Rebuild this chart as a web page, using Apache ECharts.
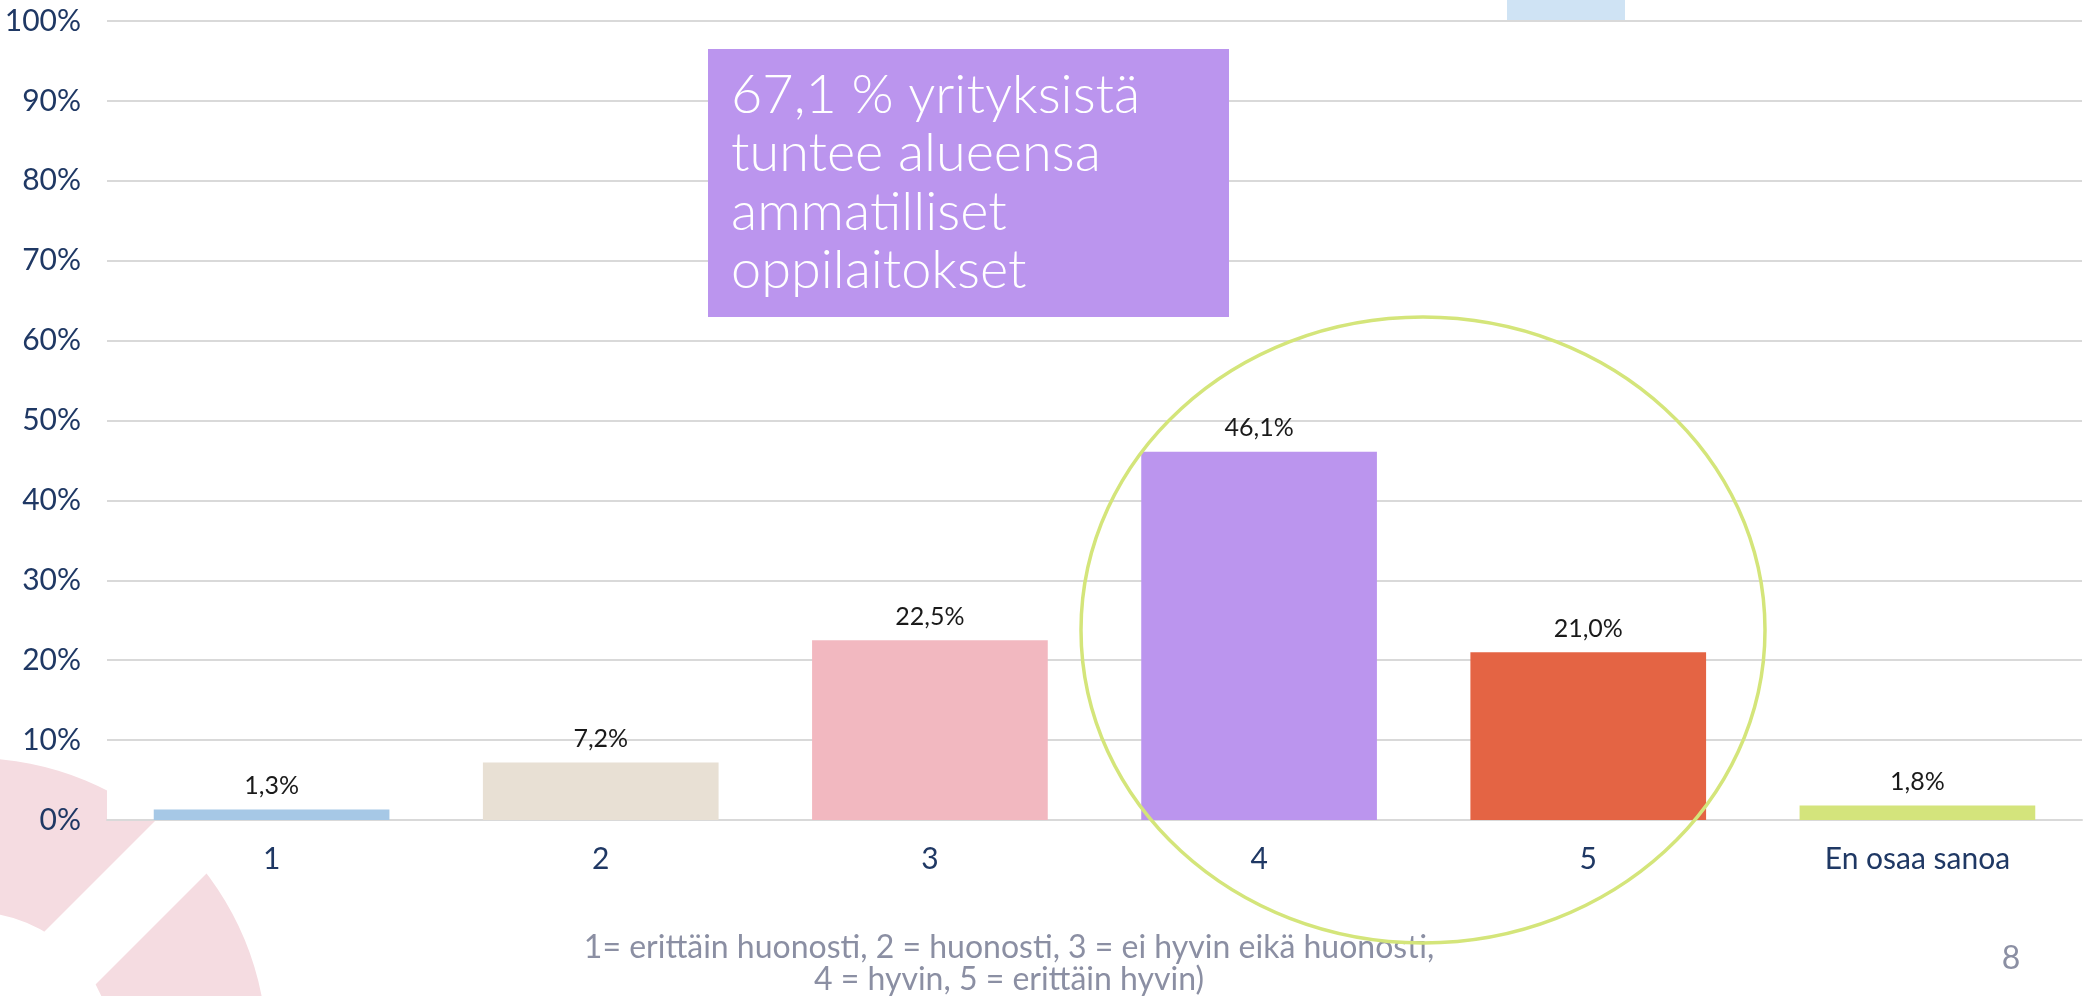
<!DOCTYPE html>
<html>
<head>
<meta charset="utf-8">
<script src="https://cdn.jsdelivr.net/npm/echarts@6/dist/echarts.min.js"></script>
<style>
html,body{margin:0;padding:0;background:#fff;}
#c{width:2088px;height:996px;}
</style>
</head>
<body>
<div id="c"></div>
<script>
const categories = ['1', '2', '3', '4', '5', 'En osaa sanoa'];
const values = [1.3, 7.2, 22.5, 46.1, 21.0, 1.8];
const barColors = ['#a6c8e6', '#e8e0d4', '#f2b8c0', '#bb95ee', '#e46444', '#d4e47c'];
const yTicks = [0, 10, 20, 30, 40, 50, 60, 70, 80, 90, 100];
const noteLines = ['1= erittäin huonosti, 2 = huonosti, 3 = ei hyvin eikä huonosti,', '4 = hyvin, 5 = erittäin hyvin)'];
const boxLines = ['67,1 % yrityksistä', 'tuntee alueensa', 'ammatilliset', 'oppilaitokset'];
const pageNumber = '8';

const FONT = 'Lato, "Open Sans", sans-serif';
const navy = '#1f3864';
const grey = '#8b8fa3';

const chart = echarts.init(document.getElementById('c'), null, {renderer: 'canvas'});

const graphics = [
  {type: 'ring', z: -30, shape: {cx: -27, cy: 1052, r: 294, r0: 140}, style: {fill: '#f5dce1'}},
  {type: 'polygon', z: -29, shape: {points: [[330, 646], [-120, 1096], [-120, 1200], [434, 646]]}, style: {fill: '#ffffff'}},
  {type: 'rect', z: -28, shape: {x: 107, y: 0, width: 1981, height: 820}, style: {fill: '#ffffff'}},
  {type: 'rect', z: -27, shape: {x: 1507, y: 0, width: 118, height: 20}, style: {fill: '#cfe3f4'}},
  {type: 'rect', z: 50, shape: {x: 708, y: 49, width: 521, height: 268}, style: {fill: '#bb95ee'}},
  {type: 'ellipse', z: 60, shape: {cx: 1423, cy: 630, rx: 342, ry: 313}, style: {fill: null, stroke: '#d4e57a', lineWidth: 3.5}},
  {type: 'text', z: 10, x: 2011, y: 959, style: {text: pageNumber, fill: grey, font: '32px ' + FONT, textAlign: 'center', textVerticalAlign: 'middle'}},
  {type: 'text', z: 10, x: -8, y: 959, style: {text: pageNumber, fill: grey, font: '32px ' + FONT, textAlign: 'center', textVerticalAlign: 'middle'}}
];
const boxY = [96, 154, 213, 271];
boxLines.forEach((t, i) => {
  graphics.push({type: 'text', z: 51, x: 731, y: boxY[i], style: {text: t, fill: '#ffffff', font: '300 54px ' + FONT, textAlign: 'left', textVerticalAlign: 'middle'}});
});
const noteY = [948, 980];
noteLines.forEach((t, i) => {
  graphics.push({type: 'text', z: 10, x: 1009, y: noteY[i], style: {text: t, fill: grey, font: '32px ' + FONT, textAlign: 'center', textVerticalAlign: 'middle'}});
});

chart.setOption({
  animation: false,
  backgroundColor: '#ffffff',
  grid: {left: 107, right: 6, top: 21, bottom: 176, containLabel: false},
  xAxis: {
    type: 'category',
    data: categories,
    axisLine: {show: true, lineStyle: {color: '#d9d9d9', width: 2}},
    axisTick: {show: false},
    axisLabel: {color: navy, fontSize: 30, fontFamily: FONT, margin: 24}
  },
  yAxis: {
    type: 'value',
    min: yTicks[0],
    max: yTicks[yTicks.length - 1],
    interval: yTicks[1] - yTicks[0],
    axisLine: {show: false},
    axisTick: {show: false},
    splitLine: {show: true, lineStyle: {color: '#d9d9d9', width: 2}},
    axisLabel: {color: navy, fontSize: 30, fontFamily: FONT, margin: 26, formatter: '{value}%'}
  },
  series: [{
    type: 'bar',
    data: values.map((v, i) => ({value: v, itemStyle: {color: barColors[i]}})),
    barCategoryGap: '28.4%',
    label: {
      show: true,
      position: 'top',
      distance: 11,
      color: '#1a1a1a',
      fontSize: 25,
      fontFamily: FONT,
      formatter: p => p.value.toFixed(1).replace('.', ',') + '%'
    }
  }],
  graphic: graphics
});
</script>
</body>
</html>
